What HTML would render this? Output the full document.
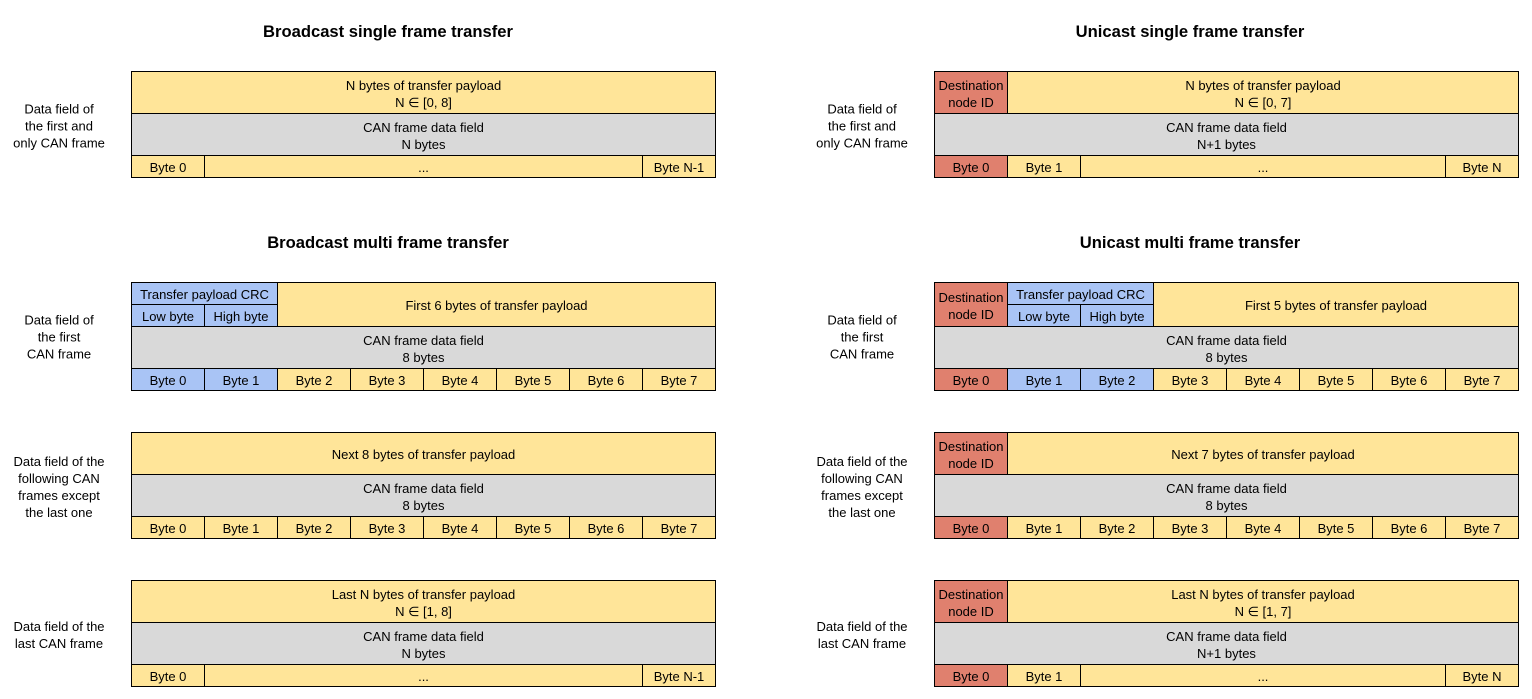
<!DOCTYPE html>
<html><head><meta charset="utf-8"><style>
body{margin:0;width:1532px;height:699px;background:#fff;position:relative;overflow:hidden;font-family:"Liberation Sans",sans-serif;}
.b{position:absolute;border:1px solid #000;box-sizing:border-box;display:flex;align-items:center;justify-content:center;text-align:center;font-size:13px;line-height:17px;color:#000;padding-top:2px;}
.y{background:#FFE599}.g{background:#D9D9D9}.r{background:#E0806E}.u{background:#A9C4F5}
.t{position:absolute;font-weight:bold;font-size:16.6px;width:400px;text-align:center;}
.l{position:absolute;width:118px;text-align:center;font-size:13px;line-height:17px;transform:translateY(-50%);padding-top:2px;}
</style></head><body>
<div class="t" style="left:188px;top:22px">Broadcast single frame transfer</div>
<div class="t" style="left:990px;top:22px">Unicast single frame transfer</div>
<div class="t" style="left:188px;top:233px">Broadcast multi frame transfer</div>
<div class="t" style="left:990px;top:233px">Unicast multi frame transfer</div>

<div class="l" style="left:0;top:125px">Data field of<br>the first and<br>only CAN frame</div>
<div class="l" style="left:0;top:336px">Data field of<br>the first<br>CAN frame</div>
<div class="l" style="left:0;top:486px">Data field of the<br>following CAN<br>frames except<br>the last one</div>
<div class="l" style="left:0;top:634px">Data field of the<br>last CAN frame</div>
<div class="l" style="left:803px;top:125px">Data field of<br>the first and<br>only CAN frame</div>
<div class="l" style="left:803px;top:336px">Data field of<br>the first<br>CAN frame</div>
<div class="l" style="left:803px;top:486px">Data field of the<br>following CAN<br>frames except<br>the last one</div>
<div class="l" style="left:803px;top:634px">Data field of the<br>last CAN frame</div>

<div class="b y" style="left:131px;top:71px;width:585px;height:43px">N bytes of transfer payload<br>N ∈ [0, 8]</div>
<div class="b g" style="left:131px;top:113px;width:585px;height:43px">CAN frame data field<br>N bytes</div>
<div class="b y" style="left:131px;top:155px;width:74px;height:23px">Byte 0</div>
<div class="b y" style="left:204px;top:155px;width:439px;height:23px">...</div>
<div class="b y" style="left:642px;top:155px;width:74px;height:23px">Byte N-1</div>

<div class="b r" style="left:934px;top:71px;width:74px;height:43px">Destination<br>node ID</div>
<div class="b y" style="left:1007px;top:71px;width:512px;height:43px">N bytes of transfer payload<br>N ∈ [0, 7]</div>
<div class="b g" style="left:934px;top:113px;width:585px;height:43px">CAN frame data field<br>N+1 bytes</div>
<div class="b r" style="left:934px;top:155px;width:74px;height:23px">Byte 0</div>
<div class="b y" style="left:1007px;top:155px;width:74px;height:23px">Byte 1</div>
<div class="b y" style="left:1080px;top:155px;width:366px;height:23px">...</div>
<div class="b y" style="left:1445px;top:155px;width:74px;height:23px">Byte N</div>

<div class="b u" style="left:131px;top:282px;width:147px;height:23px">Transfer payload CRC</div>
<div class="b u" style="left:131px;top:304px;width:74px;height:23px">Low byte</div>
<div class="b u" style="left:204px;top:304px;width:74px;height:23px">High byte</div>
<div class="b y" style="left:277px;top:282px;width:439px;height:45px">First 6 bytes of transfer payload</div>
<div class="b g" style="left:131px;top:326px;width:585px;height:43px">CAN frame data field<br>8 bytes</div>
<div class="b u" style="left:131px;top:368px;width:74px;height:23px">Byte 0</div>
<div class="b u" style="left:204px;top:368px;width:74px;height:23px">Byte 1</div>
<div class="b y" style="left:277px;top:368px;width:74px;height:23px">Byte 2</div>
<div class="b y" style="left:350px;top:368px;width:74px;height:23px">Byte 3</div>
<div class="b y" style="left:423px;top:368px;width:74px;height:23px">Byte 4</div>
<div class="b y" style="left:496px;top:368px;width:74px;height:23px">Byte 5</div>
<div class="b y" style="left:569px;top:368px;width:74px;height:23px">Byte 6</div>
<div class="b y" style="left:642px;top:368px;width:74px;height:23px">Byte 7</div>

<div class="b r" style="left:934px;top:282px;width:74px;height:45px">Destination<br>node ID</div>
<div class="b u" style="left:1007px;top:282px;width:147px;height:23px">Transfer payload CRC</div>
<div class="b u" style="left:1007px;top:304px;width:74px;height:23px">Low byte</div>
<div class="b u" style="left:1080px;top:304px;width:74px;height:23px">High byte</div>
<div class="b y" style="left:1153px;top:282px;width:366px;height:45px">First 5 bytes of transfer payload</div>
<div class="b g" style="left:934px;top:326px;width:585px;height:43px">CAN frame data field<br>8 bytes</div>
<div class="b r" style="left:934px;top:368px;width:74px;height:23px">Byte 0</div>
<div class="b u" style="left:1007px;top:368px;width:74px;height:23px">Byte 1</div>
<div class="b u" style="left:1080px;top:368px;width:74px;height:23px">Byte 2</div>
<div class="b y" style="left:1153px;top:368px;width:74px;height:23px">Byte 3</div>
<div class="b y" style="left:1226px;top:368px;width:74px;height:23px">Byte 4</div>
<div class="b y" style="left:1299px;top:368px;width:74px;height:23px">Byte 5</div>
<div class="b y" style="left:1372px;top:368px;width:74px;height:23px">Byte 6</div>
<div class="b y" style="left:1445px;top:368px;width:74px;height:23px">Byte 7</div>

<div class="b y" style="left:131px;top:432px;width:585px;height:43px">Next 8 bytes of transfer payload</div>
<div class="b g" style="left:131px;top:474px;width:585px;height:43px">CAN frame data field<br>8 bytes</div>
<div class="b y" style="left:131px;top:516px;width:74px;height:23px">Byte 0</div>
<div class="b y" style="left:204px;top:516px;width:74px;height:23px">Byte 1</div>
<div class="b y" style="left:277px;top:516px;width:74px;height:23px">Byte 2</div>
<div class="b y" style="left:350px;top:516px;width:74px;height:23px">Byte 3</div>
<div class="b y" style="left:423px;top:516px;width:74px;height:23px">Byte 4</div>
<div class="b y" style="left:496px;top:516px;width:74px;height:23px">Byte 5</div>
<div class="b y" style="left:569px;top:516px;width:74px;height:23px">Byte 6</div>
<div class="b y" style="left:642px;top:516px;width:74px;height:23px">Byte 7</div>

<div class="b r" style="left:934px;top:432px;width:74px;height:43px">Destination<br>node ID</div>
<div class="b y" style="left:1007px;top:432px;width:512px;height:43px">Next 7 bytes of transfer payload</div>
<div class="b g" style="left:934px;top:474px;width:585px;height:43px">CAN frame data field<br>8 bytes</div>
<div class="b r" style="left:934px;top:516px;width:74px;height:23px">Byte 0</div>
<div class="b y" style="left:1007px;top:516px;width:74px;height:23px">Byte 1</div>
<div class="b y" style="left:1080px;top:516px;width:74px;height:23px">Byte 2</div>
<div class="b y" style="left:1153px;top:516px;width:74px;height:23px">Byte 3</div>
<div class="b y" style="left:1226px;top:516px;width:74px;height:23px">Byte 4</div>
<div class="b y" style="left:1299px;top:516px;width:74px;height:23px">Byte 5</div>
<div class="b y" style="left:1372px;top:516px;width:74px;height:23px">Byte 6</div>
<div class="b y" style="left:1445px;top:516px;width:74px;height:23px">Byte 7</div>

<div class="b y" style="left:131px;top:580px;width:585px;height:43px">Last N bytes of transfer payload<br>N ∈ [1, 8]</div>
<div class="b g" style="left:131px;top:622px;width:585px;height:43px">CAN frame data field<br>N bytes</div>
<div class="b y" style="left:131px;top:664px;width:74px;height:23px">Byte 0</div>
<div class="b y" style="left:204px;top:664px;width:439px;height:23px">...</div>
<div class="b y" style="left:642px;top:664px;width:74px;height:23px">Byte N-1</div>

<div class="b r" style="left:934px;top:580px;width:74px;height:43px">Destination<br>node ID</div>
<div class="b y" style="left:1007px;top:580px;width:512px;height:43px">Last N bytes of transfer payload<br>N ∈ [1, 7]</div>
<div class="b g" style="left:934px;top:622px;width:585px;height:43px">CAN frame data field<br>N+1 bytes</div>
<div class="b r" style="left:934px;top:664px;width:74px;height:23px">Byte 0</div>
<div class="b y" style="left:1007px;top:664px;width:74px;height:23px">Byte 1</div>
<div class="b y" style="left:1080px;top:664px;width:366px;height:23px">...</div>
<div class="b y" style="left:1445px;top:664px;width:74px;height:23px">Byte N</div>
</body></html>
